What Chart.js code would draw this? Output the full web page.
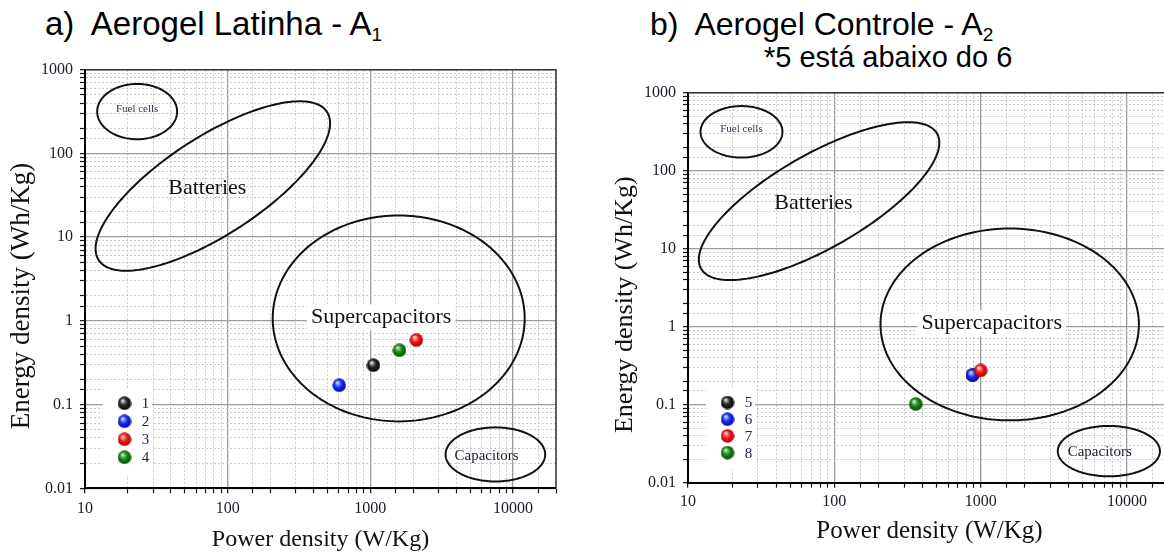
<!DOCTYPE html>
<html>
<head>
<meta charset="utf-8">
<script src="https://cdn.jsdelivr.net/npm/chart.js@4.4.1/dist/chart.umd.min.js"></script>
<style>
  html, body { margin: 0; padding: 0; background: #fff; overflow: hidden; }
  body { width: 1164px; height: 555px; position: relative; font-family: "Liberation Sans", Arial, sans-serif; color: #000; }
  .panel { position: absolute; top: 0; }
  .heading { position: absolute; white-space: pre; }
  .heading .sub { font-size: 19px; line-height: 0; vertical-align: -6px; }
</style>
</head>
<body>
<div class="heading" style="left:45px; top:8px; font-size:33px; line-height:32px;">a)  Aerogel Latinha - A<span class="sub">1</span></div>
<div class="heading" style="left:650px; top:8px; font-size:32px; line-height:32px;">b)  Aerogel Controle - A<span class="sub">2</span></div>
<div class="heading" style="left:764px; top:43px; font-size:29px; line-height:29px;">*5 está abaixo do 6</div>

<div class="panel" style="left:0px;"><canvas id="chartA" width="580" height="555"></canvas></div>
<div class="panel" style="left:590px;"><canvas id="chartB" width="600" height="555"></canvas></div>

<script>
// axis decades that carry a label
const powerTicks = [10, 100, 1000, 10000];
const energyTicks = [0.01, 0.1, 1, 10, 100, 1000];

// a) Aerogel Latinha
const seriesA = ['1', '2', '3', '4'];
const powerA = [1050, 605, 2100, 1600];
const energyA = [0.295, 0.17, 0.59, 0.445];

// b) Aerogel Controle (5 sits under 6)
const seriesB = ['5', '6', '7', '8'];
const powerB = [880, 880, 1000, 360];
const energyB = [0.24, 0.24, 0.275, 0.102];

// Ragone regions: centre in (W/Kg, Wh/Kg)
const regionNames = ['Fuel cells', 'Batteries', 'Supercapacitors', 'Capacitors'];
const regionPower = [23.2, 78.7, 1580, 7520];
const regionEnergy = [316, 40.8, 1.07, 0.0254];
// the two semi-diameters of each outline, in decades of (power, energy)
const regionSpanA = [[0.28, 0], [0.80, 0.885], [0.883, 0], [0.349, 0]];
const regionSpanB = [[0, 0.33], [0.188, -0.491], [0, 1.23], [0, 0.323]];
const regionLabelPower = [23.2, 72, 1190, 6520];
const regionLabelEnergy = [341, 38.7, 1.1, 0.0244];

const regionFonts = ['11px "Liberation Serif"', '22px "Liberation Serif"', '22px "Liberation Serif"', '15px "Liberation Serif"'];
const regionInk = ['#33334d', '#111', '#111', '#22223a'];
const ballShades = [
  ['#e0e0e0', '#2a2a2a', '#000'],
  ['#d4dcff', '#1a35ff', '#00009a'],
  ['#ffd8d8', '#ff1a1a', '#9a0000'],
  ['#c8eac8', '#1e8c1e', '#004800']
];

function makeBall(stops, size) {
  const cv = document.createElement('canvas');
  cv.width = size;
  cv.height = size;
  const g = cv.getContext('2d');
  const r = size / 2;
  const grad = g.createRadialGradient(r * 0.72, r * 0.6, r * 0.08, r, r, r);
  grad.addColorStop(0, stops[0]);
  grad.addColorStop(0.45, stops[1]);
  grad.addColorStop(1, stops[2]);
  g.fillStyle = grad;
  g.beginPath();
  g.arc(r, r, r - 0.3, 0, Math.PI * 2);
  g.fill();
  return cv;
}

const balls = ballShades.map(s => makeBall(s, 14));

function isListed(v, list) {
  return list.some(t => Math.abs(Math.log10(v) - Math.log10(t)) < 1e-6);
}

function tickText(v) {
  return v >= 1 ? String(Math.round(v)) : String(Number(v.toPrecision(1)));
}

// outlines + names of the device regions, under the points
const regionPlugin = {
  id: 'regions',
  beforeDatasetsDraw(chart) {
    const { ctx, chartArea: ca, scales: { x, y } } = chart;
    ctx.save();
    ctx.beginPath();
    ctx.rect(ca.left, ca.top, ca.right - ca.left, ca.bottom - ca.top);
    ctx.clip();
    regionNames.forEach((name, i) => {
      const cx = Math.log10(regionPower[i]);
      const cy = Math.log10(regionEnergy[i]);
      const a = regionSpanA[i];
      const b = regionSpanB[i];
      ctx.beginPath();
      for (let k = 0; k <= 180; k++) {
        const t = (k / 180) * Math.PI * 2;
        const px = x.getPixelForValue(10 ** (cx + a[0] * Math.cos(t) + b[0] * Math.sin(t)));
        const py = y.getPixelForValue(10 ** (cy + a[1] * Math.cos(t) + b[1] * Math.sin(t)));
        if (k === 0) ctx.moveTo(px, py);
        else ctx.lineTo(px, py);
      }
      ctx.closePath();
      ctx.lineWidth = 2;
      ctx.strokeStyle = '#111';
      ctx.stroke();

      const lx = x.getPixelForValue(regionLabelPower[i]);
      const ly = y.getPixelForValue(regionLabelEnergy[i]);
      ctx.font = regionFonts[i];
      ctx.textAlign = 'center';
      ctx.textBaseline = 'middle';
      if (name === 'Supercapacitors') {
        const w = ctx.measureText(name).width;
        ctx.fillStyle = '#fff';
        ctx.fillRect(lx - w / 2 - 4, ly - 13, w + 8, 26);
      }
      ctx.fillStyle = regionInk[i];
      ctx.fillText(name, lx, ly);
    });
    ctx.restore();
  }
};

// inner legend, closing frame and the vertical axis caption
const panelPlugin = {
  id: 'panel',
  afterDatasetsDraw(chart, args, opts) {
    const { ctx, chartArea: ca } = chart;
    const sets = chart.data.datasets;
    ctx.save();
    const boxTop = ca.bottom - opts.firstRow - opts.rowGap * 0.85;
    const boxBottom = ca.bottom - opts.firstRow + opts.rowGap * (sets.length - 1) + opts.rowGap;
    ctx.fillStyle = '#fff';
    ctx.fillRect(ca.left + 18, boxTop, 49, boxBottom - boxTop);
    sets.forEach((ds, i) => {
      const cy = ca.bottom - opts.firstRow + i * opts.rowGap;
      const img = ds.pointStyle;
      ctx.drawImage(img, ca.left + opts.markX - img.width / 2, cy - img.height / 2);
      ctx.fillStyle = '#222244';
      ctx.font = '15px "Liberation Serif"';
      ctx.textAlign = 'center';
      ctx.textBaseline = 'middle';
      ctx.fillText(ds.label, ca.left + opts.labelX, cy + 1);
    });
    ctx.restore();
  },
  afterDraw(chart, args, opts) {
    const { ctx, chartArea: ca } = chart;
    ctx.save();
    ctx.strokeStyle = '#333';
    ctx.lineWidth = 1.5;
    ctx.beginPath();
    ctx.moveTo(ca.left, ca.top);
    ctx.lineTo(ca.right, ca.top);
    ctx.lineTo(ca.right, ca.bottom);
    ctx.stroke();

    ctx.translate(ca.left - 63, (ca.top + ca.bottom) / 2 + 17);
    ctx.rotate(-Math.PI / 2);
    ctx.fillStyle = '#111';
    ctx.font = opts.yTitleFont;
    ctx.textAlign = 'center';
    ctx.textBaseline = 'middle';
    ctx.fillText('Energy density (Wh/Kg)', 0, 0);
    ctx.restore();
  }
};

function gridFor(list) {
  return {
    color: c => (c.tick && isListed(c.tick.value, list) ? '#9b9b9b' : '#cacaca'),
    lineWidth: c => (c.tick && isListed(c.tick.value, list) ? 1.3 : 1),
    tickColor: '#111',
    tickLength: 5,
    tickWidth: 1.2
  };
}

function borderFor(list) {
  return {
    color: '#000',
    width: 2,
    dash: c => (c.tick && !isListed(c.tick.value, list) ? [2, 2] : [])
  };
}

function buildPanel(canvasId, series, power, energy, lay) {
  const datasets = series.map((name, i) => ({
    label: name,
    data: [{ x: power[i], y: energy[i] }],
    pointStyle: balls[i],
    pointRadius: 7,
    backgroundColor: ballShades[i][1],
    order: series.length - i
  }));

  return new Chart(document.getElementById(canvasId), {
    type: 'scatter',
    data: { datasets },
    options: {
      responsive: false,
      animation: false,
      events: [],
      layout: { padding: { left: 0, top: lay.padTop, right: lay.padRight, bottom: 0 } },
      plugins: {
        legend: { display: false },
        tooltip: { enabled: false },
        panel: {
          firstRow: lay.firstRow,
          rowGap: lay.rowGap,
          markX: 39.5,
          labelX: 60.5,
          yTitleFont: lay.yTitleFont
        }
      },
      scales: {
        x: {
          type: 'logarithmic',
          min: 10,
          max: 20000,
          grid: gridFor(powerTicks),
          border: borderFor(powerTicks),
          ticks: {
            autoSkip: false,
            maxRotation: 0,
            padding: lay.xTickPad,
            color: '#1a1a2a',
            font: { family: 'Liberation Serif', size: 16 },
            callback: v => (isListed(v, powerTicks) ? tickText(v) : '')
          },
          title: {
            display: true,
            text: 'Power density (W/Kg)',
            color: '#111',
            font: { family: 'Liberation Serif', size: lay.xTitleSize },
            padding: { top: 0, bottom: lay.xTitlePad }
          },
          afterFit: s => { s.height = lay.xHeight; }
        },
        y: {
          type: 'logarithmic',
          min: 0.01,
          max: 1000,
          grid: gridFor(energyTicks),
          border: borderFor(energyTicks),
          ticks: {
            autoSkip: false,
            padding: 7,
            color: '#1a1a2a',
            font: { family: 'Liberation Serif', size: 16 },
            callback: v => (isListed(v, energyTicks) ? tickText(v) : '')
          },
          afterFit: s => { s.width = lay.yWidth; }
        }
      }
    },
    plugins: [regionPlugin, panelPlugin]
  });
}

buildPanel('chartA', seriesA, powerA, energyA, {
  padTop: 69.7, padRight: 24, yWidth: 85, xHeight: 66.7,
  xTickPad: 6, xTitleSize: 24, xTitlePad: 1, yTitleFont: '27px "Liberation Serif"',
  firstRow: 85, rowGap: 18
});

buildPanel('chartB', seriesB, powerB, energyB, {
  padTop: 92.8, padRight: 19, yWidth: 98, xHeight: 72.3,
  xTickPad: 4, xTitleSize: 25, xTitlePad: 9, yTitleFont: '26px "Liberation Serif"',
  firstRow: 80.2, rowGap: 16.7
});
</script>
</body>
</html>
